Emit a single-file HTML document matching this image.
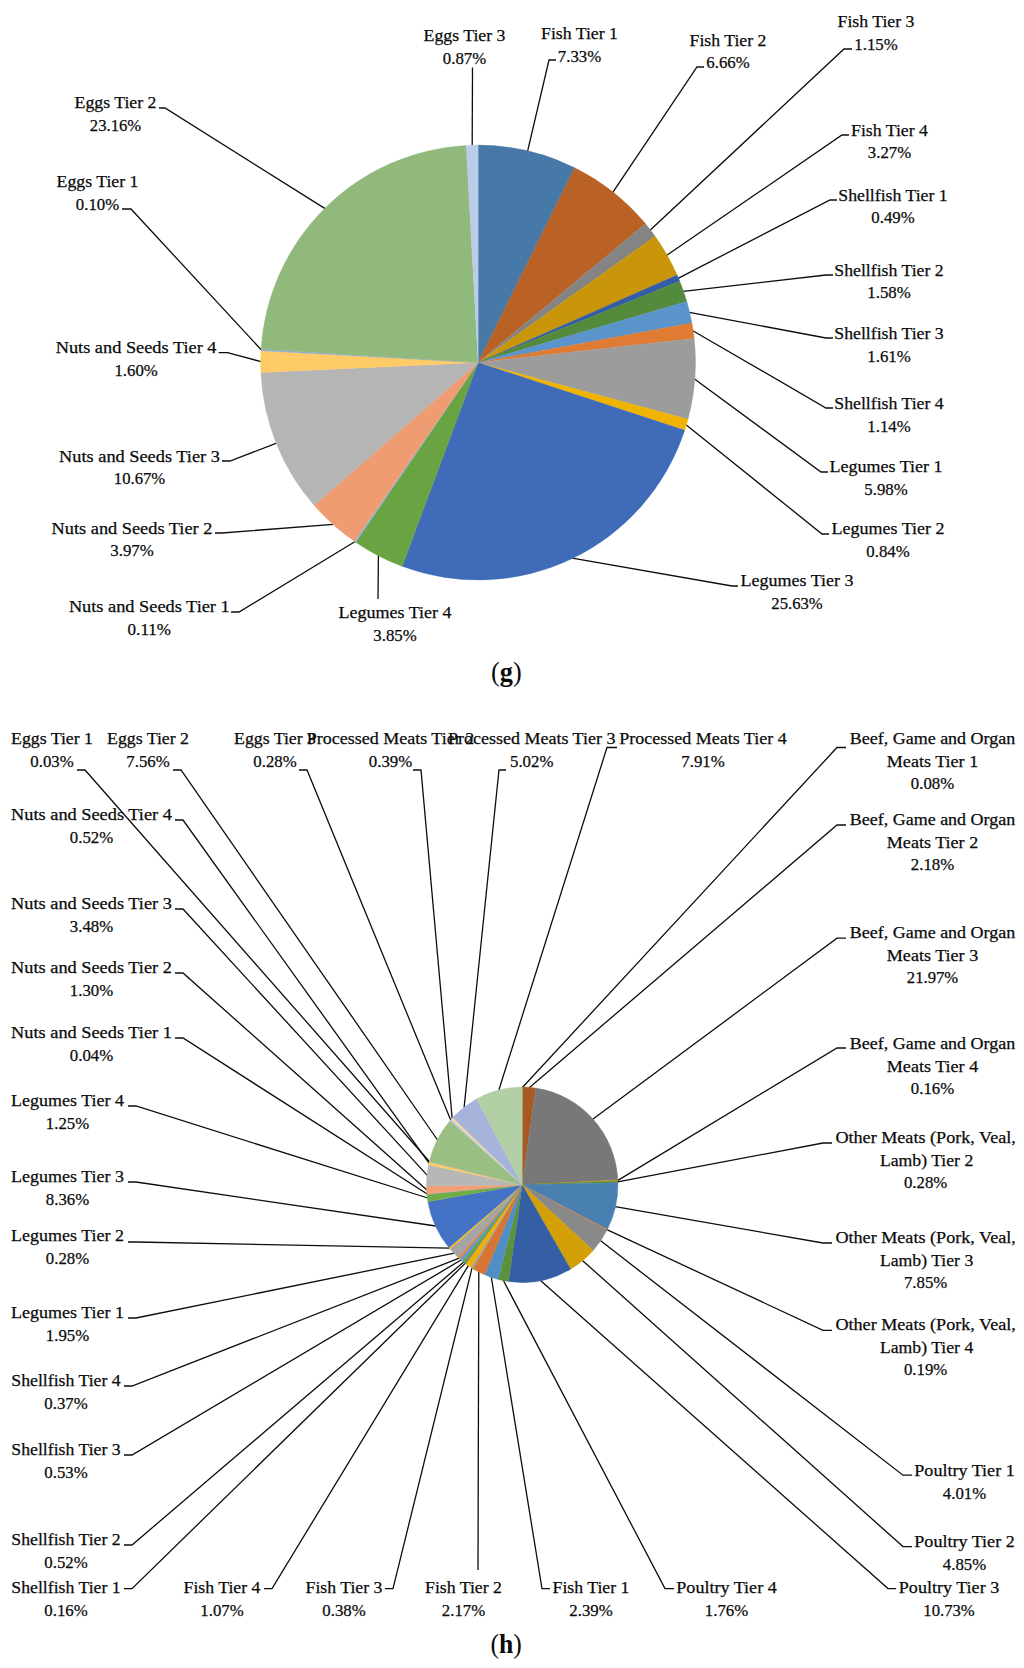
<!DOCTYPE html>
<html lang="en"><head><meta charset="utf-8"><title>Figure (g) and (h): protein food tier pie charts</title>
<style>
html,body{margin:0;padding:0;background:#fff}
body{width:1024px;height:1668px;overflow:hidden}
svg{display:block;font-family:"Liberation Serif", serif}
.ln polyline{fill:none;stroke:#0d0d0d;stroke-width:1.3;stroke-linejoin:miter}
.tx text{text-anchor:middle;fill:#0a0a0a;stroke:#0a0a0a;stroke-width:0.25}
.cap{font-size:27px;font-weight:bold;text-anchor:middle;fill:#0a0a0a}
.rg{font-weight:normal}
</style></head><body>
<svg width="1024" height="1668" viewBox="0 0 1024 1668">
<rect width="1024" height="1668" fill="#fff"/>
<g class="ln">
<polyline points="556.0,60.0 549.0,60.0 527.6,151.2"/>
<polyline points="704.0,67.0 697.0,67.0 612.8,192.4"/>
<polyline points="852.0,49.0 844.0,49.0 650.1,230.2"/>
<polyline points="849.0,135.0 842.0,135.0 666.8,255.3"/>
<polyline points="837.0,200.0 830.0,200.0 678.1,278.3"/>
<polyline points="833.0,275.0 826.0,275.0 683.2,291.4"/>
<polyline points="833.0,338.0 826.0,338.0 689.3,312.3"/>
<polyline points="833.0,408.0 826.0,408.0 692.8,330.7"/>
<polyline points="828.0,472.0 821.0,472.0 694.5,379.1"/>
<polyline points="829.0,534.0 822.0,534.0 686.0,424.8"/>
<polyline points="738.0,586.0 732.0,586.0 572.2,558.1"/>
<polyline points="378.0,599.0 378.4,555.3"/>
<polyline points="231.0,612.0 239.0,612.0 355.2,541.5"/>
<polyline points="215.0,533.0 222.0,533.0 333.4,524.3"/>
<polyline points="222.0,461.0 230.0,461.0 276.6,443.2"/>
<polyline points="218.6,352.7 227.5,352.7 261.1,361.6"/>
<polyline points="122.0,209.0 131.0,209.0 261.4,350.0"/>
<polyline points="159.0,108.0 165.0,108.0 325.1,208.6"/>
<polyline points="472.5,67.5 472.2,145.6"/>
</g>
<g>
<path d="M478.10 362.55L478.10 145.10A217.45 217.45 0 0 1 574.74 167.75Z" fill="#4779a8" stroke="#4779a8" stroke-width="0.35" stroke-linejoin="round"/>
<path d="M478.10 362.55L574.74 167.75A217.45 217.45 0 0 1 645.55 223.82Z" fill="#ba6226" stroke="#ba6226" stroke-width="0.35" stroke-linejoin="round"/>
<path d="M478.10 362.55L645.55 223.82A217.45 217.45 0 0 1 655.13 236.27Z" fill="#848484" stroke="#848484" stroke-width="0.35" stroke-linejoin="round"/>
<path d="M478.10 362.55L655.13 236.27A217.45 217.45 0 0 1 677.16 275.04Z" fill="#c9960a" stroke="#c9960a" stroke-width="0.35" stroke-linejoin="round"/>
<path d="M478.10 362.55L677.16 275.04A217.45 217.45 0 0 1 679.76 281.21Z" fill="#335da4" stroke="#335da4" stroke-width="0.35" stroke-linejoin="round"/>
<path d="M478.10 362.55L679.76 281.21A217.45 217.45 0 0 1 686.83 301.59Z" fill="#548a3b" stroke="#548a3b" stroke-width="0.35" stroke-linejoin="round"/>
<path d="M478.10 362.55L686.83 301.59A217.45 217.45 0 0 1 691.92 322.98Z" fill="#5b93cb" stroke="#5b93cb" stroke-width="0.35" stroke-linejoin="round"/>
<path d="M478.10 362.55L691.92 322.98A217.45 217.45 0 0 1 694.20 338.39Z" fill="#e07b33" stroke="#e07b33" stroke-width="0.35" stroke-linejoin="round"/>
<path d="M478.10 362.55L694.20 338.39A217.45 217.45 0 0 1 688.00 419.36Z" fill="#9c9c9c" stroke="#9c9c9c" stroke-width="0.35" stroke-linejoin="round"/>
<path d="M478.10 362.55L688.00 419.36A217.45 217.45 0 0 1 684.71 430.36Z" fill="#f0b400" stroke="#f0b400" stroke-width="0.35" stroke-linejoin="round"/>
<path d="M478.10 362.55L684.71 430.36A217.45 217.45 0 0 1 402.20 566.32Z" fill="#3f6bb8" stroke="#3f6bb8" stroke-width="0.35" stroke-linejoin="round"/>
<path d="M478.10 362.55L402.20 566.32A217.45 217.45 0 0 1 355.60 542.21Z" fill="#69a342" stroke="#69a342" stroke-width="0.35" stroke-linejoin="round"/>
<path d="M478.10 362.55L355.60 542.21A217.45 217.45 0 0 1 354.36 541.36Z" fill="#8db4e2" stroke="#8db4e2" stroke-width="0.35" stroke-linejoin="round"/>
<path d="M478.10 362.55L354.36 541.36A217.45 217.45 0 0 1 314.06 505.29Z" fill="#ef9c72" stroke="#ef9c72" stroke-width="0.35" stroke-linejoin="round"/>
<path d="M478.10 362.55L314.06 505.29A217.45 217.45 0 0 1 260.88 372.49Z" fill="#b5b5b5" stroke="#b5b5b5" stroke-width="0.35" stroke-linejoin="round"/>
<path d="M478.10 362.55L260.88 372.49A217.45 217.45 0 0 1 260.98 350.64Z" fill="#ffcb66" stroke="#ffcb66" stroke-width="0.35" stroke-linejoin="round"/>
<path d="M478.10 362.55L260.98 350.64A217.45 217.45 0 0 1 261.06 349.27Z" fill="#8ea9db" stroke="#8ea9db" stroke-width="0.35" stroke-linejoin="round"/>
<path d="M478.10 362.55L261.06 349.27A217.45 217.45 0 0 1 466.22 145.42Z" fill="#90b97b" stroke="#90b97b" stroke-width="0.35" stroke-linejoin="round"/>
<path d="M478.10 362.55L466.22 145.42A217.45 217.45 0 0 1 478.10 145.10Z" fill="#b9cde9" stroke="#b9cde9" stroke-width="0.35" stroke-linejoin="round"/>
</g>
<g class="tx">
<text x="579.5" y="39.0" font-size="17.5" textLength="76.9" lengthAdjust="spacingAndGlyphs">Fish Tier 1</text>
<text x="579.5" y="61.8" font-size="17.4" textLength="43.4" lengthAdjust="spacingAndGlyphs">7.33%</text>
<text x="728.0" y="45.5" font-size="17.5" textLength="76.9" lengthAdjust="spacingAndGlyphs">Fish Tier 2</text>
<text x="728.0" y="68.3" font-size="17.4" textLength="43.4" lengthAdjust="spacingAndGlyphs">6.66%</text>
<text x="876.0" y="27.0" font-size="17.5" textLength="76.9" lengthAdjust="spacingAndGlyphs">Fish Tier 3</text>
<text x="876.0" y="49.8" font-size="17.4" textLength="43.4" lengthAdjust="spacingAndGlyphs">1.15%</text>
<text x="889.5" y="135.5" font-size="17.5" textLength="76.9" lengthAdjust="spacingAndGlyphs">Fish Tier 4</text>
<text x="889.5" y="158.3" font-size="17.4" textLength="43.4" lengthAdjust="spacingAndGlyphs">3.27%</text>
<text x="893.0" y="200.5" font-size="17.5" textLength="109.4" lengthAdjust="spacingAndGlyphs">Shellfish Tier 1</text>
<text x="893.0" y="223.3" font-size="17.4" textLength="43.4" lengthAdjust="spacingAndGlyphs">0.49%</text>
<text x="889.0" y="275.5" font-size="17.5" textLength="109.4" lengthAdjust="spacingAndGlyphs">Shellfish Tier 2</text>
<text x="889.0" y="298.3" font-size="17.4" textLength="43.4" lengthAdjust="spacingAndGlyphs">1.58%</text>
<text x="889.0" y="339.0" font-size="17.5" textLength="109.4" lengthAdjust="spacingAndGlyphs">Shellfish Tier 3</text>
<text x="889.0" y="361.8" font-size="17.4" textLength="43.4" lengthAdjust="spacingAndGlyphs">1.61%</text>
<text x="889.0" y="409.0" font-size="17.5" textLength="109.4" lengthAdjust="spacingAndGlyphs">Shellfish Tier 4</text>
<text x="889.0" y="431.8" font-size="17.4" textLength="43.4" lengthAdjust="spacingAndGlyphs">1.14%</text>
<text x="886.0" y="472.0" font-size="17.5" textLength="112.9" lengthAdjust="spacingAndGlyphs">Legumes Tier 1</text>
<text x="886.0" y="494.8" font-size="17.4" textLength="43.4" lengthAdjust="spacingAndGlyphs">5.98%</text>
<text x="888.0" y="534.0" font-size="17.5" textLength="112.9" lengthAdjust="spacingAndGlyphs">Legumes Tier 2</text>
<text x="888.0" y="556.8" font-size="17.4" textLength="43.4" lengthAdjust="spacingAndGlyphs">0.84%</text>
<text x="797.0" y="586.0" font-size="17.5" textLength="112.9" lengthAdjust="spacingAndGlyphs">Legumes Tier 3</text>
<text x="797.0" y="608.8" font-size="17.4" textLength="51.4" lengthAdjust="spacingAndGlyphs">25.63%</text>
<text x="395.0" y="618.0" font-size="17.5" textLength="112.9" lengthAdjust="spacingAndGlyphs">Legumes Tier 4</text>
<text x="395.0" y="640.8" font-size="17.4" textLength="43.4" lengthAdjust="spacingAndGlyphs">3.85%</text>
<text x="149.3" y="612.0" font-size="17.5" textLength="160.8" lengthAdjust="spacingAndGlyphs">Nuts and Seeds Tier 1</text>
<text x="149.3" y="634.8" font-size="17.4" textLength="43.4" lengthAdjust="spacingAndGlyphs">0.11%</text>
<text x="132.0" y="533.5" font-size="17.5" textLength="160.8" lengthAdjust="spacingAndGlyphs">Nuts and Seeds Tier 2</text>
<text x="132.0" y="556.3" font-size="17.4" textLength="43.4" lengthAdjust="spacingAndGlyphs">3.97%</text>
<text x="139.5" y="461.5" font-size="17.5" textLength="160.8" lengthAdjust="spacingAndGlyphs">Nuts and Seeds Tier 3</text>
<text x="139.5" y="484.3" font-size="17.4" textLength="51.4" lengthAdjust="spacingAndGlyphs">10.67%</text>
<text x="136.1" y="353.4" font-size="17.5" textLength="160.8" lengthAdjust="spacingAndGlyphs">Nuts and Seeds Tier 4</text>
<text x="136.1" y="376.2" font-size="17.4" textLength="43.4" lengthAdjust="spacingAndGlyphs">1.60%</text>
<text x="97.5" y="187.0" font-size="17.5" textLength="81.9" lengthAdjust="spacingAndGlyphs">Eggs Tier 1</text>
<text x="97.5" y="209.8" font-size="17.4" textLength="43.4" lengthAdjust="spacingAndGlyphs">0.10%</text>
<text x="115.5" y="108.0" font-size="17.5" textLength="81.9" lengthAdjust="spacingAndGlyphs">Eggs Tier 2</text>
<text x="115.5" y="130.8" font-size="17.4" textLength="51.4" lengthAdjust="spacingAndGlyphs">23.16%</text>
<text x="464.5" y="41.0" font-size="17.5" textLength="81.9" lengthAdjust="spacingAndGlyphs">Eggs Tier 3</text>
<text x="464.5" y="63.8" font-size="17.4" textLength="43.4" lengthAdjust="spacingAndGlyphs">0.87%</text>
</g>
<g class="ln">
<polyline points="846.0,747.5 837.0,747.5 522.4,1087.5"/>
<polyline points="846.0,825.0 837.0,825.0 529.2,1087.8"/>
<polyline points="846.0,938.2 837.0,938.2 592.7,1119.3"/>
<polyline points="846.0,1048.0 837.0,1048.0 617.5,1180.6"/>
<polyline points="832.0,1143.0 823.0,1143.0 617.6,1181.9"/>
<polyline points="832.0,1243.0 823.0,1243.0 615.2,1206.6"/>
<polyline points="832.0,1330.3 823.0,1330.3 606.9,1229.6"/>
<polyline points="912.0,1475.2 903.0,1475.2 600.4,1240.6"/>
<polyline points="912.0,1546.6 903.0,1546.6 582.4,1260.4"/>
<polyline points="896.0,1588.6 888.0,1588.6 540.5,1280.4"/>
<polyline points="674.0,1588.6 665.0,1588.6 503.3,1280.3"/>
<polyline points="550.0,1588.6 542.0,1588.6 491.3,1277.0"/>
<polyline points="478.0,1570.0 478.8,1271.5"/>
<polyline points="385.0,1588.6 393.0,1588.6 472.1,1267.7"/>
<polyline points="264.0,1588.6 272.0,1588.6 468.5,1265.3"/>
<polyline points="124.0,1588.6 132.0,1588.6 465.5,1263.1"/>
<polyline points="124.0,1545.0 132.0,1545.0 463.8,1261.9"/>
<polyline points="124.0,1455.0 132.0,1455.0 461.4,1259.8"/>
<polyline points="124.0,1386.0 132.0,1386.0 459.3,1258.1"/>
<polyline points="128.0,1318.0 136.0,1318.0 454.3,1253.2"/>
<polyline points="128.0,1242.0 136.0,1242.0 449.7,1248.2"/>
<polyline points="128.0,1182.0 136.0,1182.0 435.8,1226.0"/>
<polyline points="128.0,1106.0 136.0,1106.0 427.7,1198.0"/>
<polyline points="175.0,1038.0 183.0,1038.0 427.2,1194.0"/>
<polyline points="175.0,973.0 183.0,973.0 426.9,1190.0"/>
<polyline points="175.0,909.0 183.0,909.0 427.3,1175.4"/>
<polyline points="175.0,820.0 183.0,820.0 429.2,1163.3"/>
<polyline points="77.0,770.0 85.0,770.0 429.5,1161.7"/>
<polyline points="173.0,770.0 181.0,770.0 437.5,1140.0"/>
<polyline points="299.0,770.0 307.0,770.0 450.8,1120.3"/>
<polyline points="413.0,770.0 421.0,770.0 452.2,1118.8"/>
<polyline points="506.0,770.0 499.0,770.0 464.1,1107.6"/>
<polyline points="617.0,747.5 607.0,747.5 498.7,1090.5"/>
</g>
<g>
<path d="M522.20 1184.85L522.20 1087.10A95.8 97.75 0 0 1 522.68 1087.10Z" fill="#5b9bd5" stroke="#5b9bd5" stroke-width="0.35" stroke-linejoin="round"/>
<path d="M522.20 1184.85L522.68 1087.10A95.8 97.75 0 0 1 535.76 1088.08Z" fill="#a85a22" stroke="#a85a22" stroke-width="0.35" stroke-linejoin="round"/>
<path d="M522.20 1184.85L535.76 1088.08A95.8 97.75 0 0 1 617.89 1180.09Z" fill="#787878" stroke="#787878" stroke-width="0.35" stroke-linejoin="round"/>
<path d="M522.20 1184.85L617.89 1180.09A95.8 97.75 0 0 1 617.93 1181.07Z" fill="#c9960a" stroke="#c9960a" stroke-width="0.35" stroke-linejoin="round"/>
<path d="M522.20 1184.85L617.93 1181.07A95.8 97.75 0 0 1 617.98 1182.79Z" fill="#548a3b" stroke="#548a3b" stroke-width="0.35" stroke-linejoin="round"/>
<path d="M522.20 1184.85L617.98 1182.79A95.8 97.75 0 0 1 607.52 1229.30Z" fill="#4980b2" stroke="#4980b2" stroke-width="0.35" stroke-linejoin="round"/>
<path d="M522.20 1184.85L607.52 1229.30A95.8 97.75 0 0 1 607.00 1230.34Z" fill="#d6722e" stroke="#d6722e" stroke-width="0.35" stroke-linejoin="round"/>
<path d="M522.20 1184.85L607.00 1230.34A95.8 97.75 0 0 1 593.21 1250.47Z" fill="#898989" stroke="#898989" stroke-width="0.35" stroke-linejoin="round"/>
<path d="M522.20 1184.85L593.21 1250.47A95.8 97.75 0 0 1 570.65 1269.18Z" fill="#d4a007" stroke="#d4a007" stroke-width="0.35" stroke-linejoin="round"/>
<path d="M522.20 1184.85L570.65 1269.18A95.8 97.75 0 0 1 508.47 1281.59Z" fill="#355fa5" stroke="#355fa5" stroke-width="0.35" stroke-linejoin="round"/>
<path d="M522.20 1184.85L508.47 1281.59A95.8 97.75 0 0 1 498.09 1279.45Z" fill="#5a913a" stroke="#5a913a" stroke-width="0.35" stroke-linejoin="round"/>
<path d="M522.20 1184.85L498.09 1279.45A95.8 97.75 0 0 1 484.49 1274.71Z" fill="#4f8fc5" stroke="#4f8fc5" stroke-width="0.35" stroke-linejoin="round"/>
<path d="M522.20 1184.85L484.49 1274.71A95.8 97.75 0 0 1 472.87 1268.65Z" fill="#d67532" stroke="#d67532" stroke-width="0.35" stroke-linejoin="round"/>
<path d="M522.20 1184.85L472.87 1268.65A95.8 97.75 0 0 1 470.93 1267.42Z" fill="#a0a0a0" stroke="#a0a0a0" stroke-width="0.35" stroke-linejoin="round"/>
<path d="M522.20 1184.85L470.93 1267.42A95.8 97.75 0 0 1 465.61 1263.72Z" fill="#eab208" stroke="#eab208" stroke-width="0.35" stroke-linejoin="round"/>
<path d="M522.20 1184.85L465.61 1263.72A95.8 97.75 0 0 1 464.83 1263.14Z" fill="#3f6bb8" stroke="#3f6bb8" stroke-width="0.35" stroke-linejoin="round"/>
<path d="M522.20 1184.85L464.83 1263.14A95.8 97.75 0 0 1 462.36 1261.18Z" fill="#69a342" stroke="#69a342" stroke-width="0.35" stroke-linejoin="round"/>
<path d="M522.20 1184.85L462.36 1261.18A95.8 97.75 0 0 1 459.90 1259.11Z" fill="#5b9bd5" stroke="#5b9bd5" stroke-width="0.35" stroke-linejoin="round"/>
<path d="M522.20 1184.85L459.90 1259.11A95.8 97.75 0 0 1 458.23 1257.61Z" fill="#ed7d31" stroke="#ed7d31" stroke-width="0.35" stroke-linejoin="round"/>
<path d="M522.20 1184.85L458.23 1257.61A95.8 97.75 0 0 1 449.99 1249.09Z" fill="#a5a5a5" stroke="#a5a5a5" stroke-width="0.35" stroke-linejoin="round"/>
<path d="M522.20 1184.85L449.99 1249.09A95.8 97.75 0 0 1 448.90 1247.78Z" fill="#ffc000" stroke="#ffc000" stroke-width="0.35" stroke-linejoin="round"/>
<path d="M522.20 1184.85L448.90 1247.78A95.8 97.75 0 0 1 427.85 1201.80Z" fill="#4472c4" stroke="#4472c4" stroke-width="0.35" stroke-linejoin="round"/>
<path d="M522.20 1184.85L427.85 1201.80A95.8 97.75 0 0 1 426.84 1194.20Z" fill="#70ad47" stroke="#70ad47" stroke-width="0.35" stroke-linejoin="round"/>
<path d="M522.20 1184.85L426.84 1194.20A95.8 97.75 0 0 1 426.82 1193.96Z" fill="#8db4e2" stroke="#8db4e2" stroke-width="0.35" stroke-linejoin="round"/>
<path d="M522.20 1184.85L426.82 1193.96A95.8 97.75 0 0 1 426.41 1185.99Z" fill="#f1a078" stroke="#f1a078" stroke-width="0.35" stroke-linejoin="round"/>
<path d="M522.20 1184.85L426.41 1185.99A95.8 97.75 0 0 1 428.44 1164.76Z" fill="#b7b7b7" stroke="#b7b7b7" stroke-width="0.35" stroke-linejoin="round"/>
<path d="M522.20 1184.85L428.44 1164.76A95.8 97.75 0 0 1 429.14 1161.65Z" fill="#ffcd66" stroke="#ffcd66" stroke-width="0.35" stroke-linejoin="round"/>
<path d="M522.20 1184.85L429.14 1161.65A95.8 97.75 0 0 1 429.18 1161.47Z" fill="#8ea9db" stroke="#8ea9db" stroke-width="0.35" stroke-linejoin="round"/>
<path d="M522.20 1184.85L429.18 1161.47A95.8 97.75 0 0 1 449.95 1120.66Z" fill="#9abf84" stroke="#9abf84" stroke-width="0.35" stroke-linejoin="round"/>
<path d="M522.20 1184.85L449.95 1120.66A95.8 97.75 0 0 1 451.07 1119.37Z" fill="#adc8e8" stroke="#adc8e8" stroke-width="0.35" stroke-linejoin="round"/>
<path d="M522.20 1184.85L451.07 1119.37A95.8 97.75 0 0 1 452.66 1117.61Z" fill="#ffd78c" stroke="#ffd78c" stroke-width="0.35" stroke-linejoin="round"/>
<path d="M522.20 1184.85L452.66 1117.61A95.8 97.75 0 0 1 476.53 1098.92Z" fill="#a6b4dc" stroke="#a6b4dc" stroke-width="0.35" stroke-linejoin="round"/>
<path d="M522.20 1184.85L476.53 1098.92A95.8 97.75 0 0 1 522.20 1087.10Z" fill="#b2cfa5" stroke="#b2cfa5" stroke-width="0.35" stroke-linejoin="round"/>
</g>
<g class="tx">
<text x="932.5" y="744.0" font-size="17.5" textLength="165.4" lengthAdjust="spacingAndGlyphs">Beef, Game and Organ</text>
<text x="932.5" y="766.5" font-size="17.5" textLength="91.4" lengthAdjust="spacingAndGlyphs">Meats Tier 1</text>
<text x="932.5" y="788.9" font-size="17.4" textLength="43.4" lengthAdjust="spacingAndGlyphs">0.08%</text>
<text x="932.5" y="825.0" font-size="17.5" textLength="165.4" lengthAdjust="spacingAndGlyphs">Beef, Game and Organ</text>
<text x="932.5" y="847.5" font-size="17.5" textLength="91.4" lengthAdjust="spacingAndGlyphs">Meats Tier 2</text>
<text x="932.5" y="869.9" font-size="17.4" textLength="43.4" lengthAdjust="spacingAndGlyphs">2.18%</text>
<text x="932.5" y="938.0" font-size="17.5" textLength="165.4" lengthAdjust="spacingAndGlyphs">Beef, Game and Organ</text>
<text x="932.5" y="960.5" font-size="17.5" textLength="91.4" lengthAdjust="spacingAndGlyphs">Meats Tier 3</text>
<text x="932.5" y="982.9" font-size="17.4" textLength="51.4" lengthAdjust="spacingAndGlyphs">21.97%</text>
<text x="932.5" y="1049.0" font-size="17.5" textLength="165.4" lengthAdjust="spacingAndGlyphs">Beef, Game and Organ</text>
<text x="932.5" y="1071.5" font-size="17.5" textLength="91.4" lengthAdjust="spacingAndGlyphs">Meats Tier 4</text>
<text x="932.5" y="1093.9" font-size="17.4" textLength="43.4" lengthAdjust="spacingAndGlyphs">0.16%</text>
<text x="925.6" y="1143.0" font-size="17.5" textLength="180.4" lengthAdjust="spacingAndGlyphs">Other Meats (Pork, Veal,</text>
<text x="926.6" y="1165.5" font-size="17.5" textLength="93.4" lengthAdjust="spacingAndGlyphs">Lamb) Tier 2</text>
<text x="925.6" y="1187.9" font-size="17.4" textLength="43.4" lengthAdjust="spacingAndGlyphs">0.28%</text>
<text x="925.6" y="1243.0" font-size="17.5" textLength="180.4" lengthAdjust="spacingAndGlyphs">Other Meats (Pork, Veal,</text>
<text x="926.6" y="1265.5" font-size="17.5" textLength="93.4" lengthAdjust="spacingAndGlyphs">Lamb) Tier 3</text>
<text x="925.6" y="1287.9" font-size="17.4" textLength="43.4" lengthAdjust="spacingAndGlyphs">7.85%</text>
<text x="925.6" y="1330.3" font-size="17.5" textLength="180.4" lengthAdjust="spacingAndGlyphs">Other Meats (Pork, Veal,</text>
<text x="926.6" y="1352.8" font-size="17.5" textLength="93.4" lengthAdjust="spacingAndGlyphs">Lamb) Tier 4</text>
<text x="925.6" y="1375.2" font-size="17.4" textLength="43.4" lengthAdjust="spacingAndGlyphs">0.19%</text>
<text x="964.5" y="1475.7" font-size="17.5" textLength="100.4" lengthAdjust="spacingAndGlyphs">Poultry Tier 1</text>
<text x="964.5" y="1498.5" font-size="17.4" textLength="43.4" lengthAdjust="spacingAndGlyphs">4.01%</text>
<text x="964.5" y="1547.0" font-size="17.5" textLength="100.4" lengthAdjust="spacingAndGlyphs">Poultry Tier 2</text>
<text x="964.5" y="1569.8" font-size="17.4" textLength="43.4" lengthAdjust="spacingAndGlyphs">4.85%</text>
<text x="949.0" y="1593.0" font-size="17.5" textLength="100.4" lengthAdjust="spacingAndGlyphs">Poultry Tier 3</text>
<text x="949.0" y="1615.8" font-size="17.4" textLength="51.4" lengthAdjust="spacingAndGlyphs">10.73%</text>
<text x="726.5" y="1593.0" font-size="17.5" textLength="100.4" lengthAdjust="spacingAndGlyphs">Poultry Tier 4</text>
<text x="726.5" y="1615.8" font-size="17.4" textLength="43.4" lengthAdjust="spacingAndGlyphs">1.76%</text>
<text x="591.0" y="1593.0" font-size="17.5" textLength="76.9" lengthAdjust="spacingAndGlyphs">Fish Tier 1</text>
<text x="591.0" y="1615.8" font-size="17.4" textLength="43.4" lengthAdjust="spacingAndGlyphs">2.39%</text>
<text x="463.5" y="1593.0" font-size="17.5" textLength="76.9" lengthAdjust="spacingAndGlyphs">Fish Tier 2</text>
<text x="463.5" y="1615.8" font-size="17.4" textLength="43.4" lengthAdjust="spacingAndGlyphs">2.17%</text>
<text x="344.0" y="1593.0" font-size="17.5" textLength="76.9" lengthAdjust="spacingAndGlyphs">Fish Tier 3</text>
<text x="344.0" y="1615.8" font-size="17.4" textLength="43.4" lengthAdjust="spacingAndGlyphs">0.38%</text>
<text x="222.0" y="1593.0" font-size="17.5" textLength="76.9" lengthAdjust="spacingAndGlyphs">Fish Tier 4</text>
<text x="222.0" y="1615.8" font-size="17.4" textLength="43.4" lengthAdjust="spacingAndGlyphs">1.07%</text>
<text x="66.0" y="1593.0" font-size="17.5" textLength="109.4" lengthAdjust="spacingAndGlyphs">Shellfish Tier 1</text>
<text x="66.0" y="1615.8" font-size="17.4" textLength="43.4" lengthAdjust="spacingAndGlyphs">0.16%</text>
<text x="66.0" y="1545.0" font-size="17.5" textLength="109.4" lengthAdjust="spacingAndGlyphs">Shellfish Tier 2</text>
<text x="66.0" y="1567.8" font-size="17.4" textLength="43.4" lengthAdjust="spacingAndGlyphs">0.52%</text>
<text x="66.0" y="1455.0" font-size="17.5" textLength="109.4" lengthAdjust="spacingAndGlyphs">Shellfish Tier 3</text>
<text x="66.0" y="1477.8" font-size="17.4" textLength="43.4" lengthAdjust="spacingAndGlyphs">0.53%</text>
<text x="66.0" y="1386.0" font-size="17.5" textLength="109.4" lengthAdjust="spacingAndGlyphs">Shellfish Tier 4</text>
<text x="66.0" y="1408.8" font-size="17.4" textLength="43.4" lengthAdjust="spacingAndGlyphs">0.37%</text>
<text x="67.5" y="1318.0" font-size="17.5" textLength="112.9" lengthAdjust="spacingAndGlyphs">Legumes Tier 1</text>
<text x="67.5" y="1340.8" font-size="17.4" textLength="43.4" lengthAdjust="spacingAndGlyphs">1.95%</text>
<text x="67.5" y="1241.0" font-size="17.5" textLength="112.9" lengthAdjust="spacingAndGlyphs">Legumes Tier 2</text>
<text x="67.5" y="1263.8" font-size="17.4" textLength="43.4" lengthAdjust="spacingAndGlyphs">0.28%</text>
<text x="67.5" y="1182.0" font-size="17.5" textLength="112.9" lengthAdjust="spacingAndGlyphs">Legumes Tier 3</text>
<text x="67.5" y="1204.8" font-size="17.4" textLength="43.4" lengthAdjust="spacingAndGlyphs">8.36%</text>
<text x="67.5" y="1106.0" font-size="17.5" textLength="112.9" lengthAdjust="spacingAndGlyphs">Legumes Tier 4</text>
<text x="67.5" y="1128.8" font-size="17.4" textLength="43.4" lengthAdjust="spacingAndGlyphs">1.25%</text>
<text x="91.5" y="1038.0" font-size="17.5" textLength="160.8" lengthAdjust="spacingAndGlyphs">Nuts and Seeds Tier 1</text>
<text x="91.5" y="1060.8" font-size="17.4" textLength="43.4" lengthAdjust="spacingAndGlyphs">0.04%</text>
<text x="91.5" y="973.0" font-size="17.5" textLength="160.8" lengthAdjust="spacingAndGlyphs">Nuts and Seeds Tier 2</text>
<text x="91.5" y="995.8" font-size="17.4" textLength="43.4" lengthAdjust="spacingAndGlyphs">1.30%</text>
<text x="91.5" y="909.0" font-size="17.5" textLength="160.8" lengthAdjust="spacingAndGlyphs">Nuts and Seeds Tier 3</text>
<text x="91.5" y="931.8" font-size="17.4" textLength="43.4" lengthAdjust="spacingAndGlyphs">3.48%</text>
<text x="91.5" y="820.0" font-size="17.5" textLength="160.8" lengthAdjust="spacingAndGlyphs">Nuts and Seeds Tier 4</text>
<text x="91.5" y="842.8" font-size="17.4" textLength="43.4" lengthAdjust="spacingAndGlyphs">0.52%</text>
<text x="52.0" y="744.0" font-size="17.5" textLength="81.9" lengthAdjust="spacingAndGlyphs">Eggs Tier 1</text>
<text x="52.0" y="766.8" font-size="17.4" textLength="43.4" lengthAdjust="spacingAndGlyphs">0.03%</text>
<text x="148.0" y="744.0" font-size="17.5" textLength="81.9" lengthAdjust="spacingAndGlyphs">Eggs Tier 2</text>
<text x="148.0" y="766.8" font-size="17.4" textLength="43.4" lengthAdjust="spacingAndGlyphs">7.56%</text>
<text x="275.0" y="744.0" font-size="17.5" textLength="81.9" lengthAdjust="spacingAndGlyphs">Eggs Tier 3</text>
<text x="275.0" y="766.8" font-size="17.4" textLength="43.4" lengthAdjust="spacingAndGlyphs">0.28%</text>
<text x="390.5" y="744.0" font-size="17.5" textLength="167.4" lengthAdjust="spacingAndGlyphs">Processed Meats Tier 2</text>
<text x="390.5" y="766.8" font-size="17.4" textLength="43.4" lengthAdjust="spacingAndGlyphs">0.39%</text>
<text x="531.7" y="744.0" font-size="17.5" textLength="167.4" lengthAdjust="spacingAndGlyphs">Processed Meats Tier 3</text>
<text x="531.7" y="766.8" font-size="17.4" textLength="43.4" lengthAdjust="spacingAndGlyphs">5.02%</text>
<text x="703.0" y="744.0" font-size="17.5" textLength="167.4" lengthAdjust="spacingAndGlyphs">Processed Meats Tier 4</text>
<text x="703.0" y="766.8" font-size="17.4" textLength="43.4" lengthAdjust="spacingAndGlyphs">7.91%</text>
</g>
<text class="cap" x="506.4" y="681.3" textLength="30.6" lengthAdjust="spacingAndGlyphs"><tspan class="rg">(</tspan>g<tspan class="rg">)</tspan></text>
<text class="cap" x="506.2" y="1653" textLength="31.4" lengthAdjust="spacingAndGlyphs"><tspan class="rg">(</tspan>h<tspan class="rg">)</tspan></text>
</svg>
</body></html>
